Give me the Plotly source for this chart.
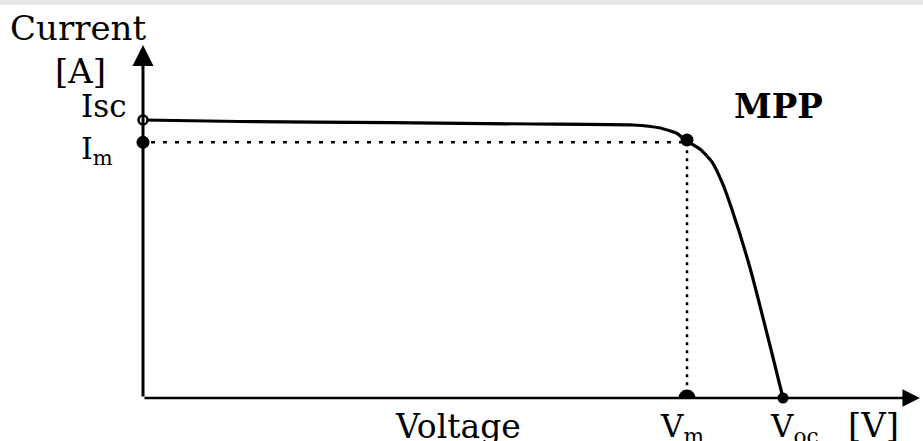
import plotly.graph_objects as go

# ---- data (schematic units) ----
voltage = [0.0, 3.03, 7.72, 12.19, 15.31, 16.16, 16.69, 17.0, 17.44, 17.78, 18.09,
           18.41, 18.97, 19.59, 20.0]
current = [5.00, 4.973, 4.951, 4.928, 4.910, 4.856, 4.757, 4.62, 4.460, 4.245, 3.885,
           3.381, 2.338, 0.953, 0.0]
Isc = 5.0
Im = 4.6
Vm = 17.0
Voc = 20.0
x_max = 24.375
y_max = 7.158
x_arrow = 24.28
y_arrow = 6.35

W, H = 923, 441
ML, MB = 143, 43
PW, PH = W - ML, H - MB

def px(x):
    return (x - ML) / PW

def py(y):
    return (PH - y) / PH

fig = go.Figure()

# dotted guide lines
fig.add_trace(go.Scatter(x=[0.25, Vm], y=[Im, Im], mode="lines",
                         line=dict(color="black", width=2.5, dash="4px,8px"),
                         hoverinfo="skip", showlegend=False))
fig.add_trace(go.Scatter(x=[Vm, Vm], y=[Im, 0], mode="lines",
                         line=dict(color="black", width=2.5, dash="3px,5px"),
                         hoverinfo="skip", showlegend=False))
# I-V curve
fig.add_trace(go.Scatter(x=voltage, y=current, mode="lines",
                         line=dict(color="black", width=3.2, shape="spline", smoothing=0.5),
                         cliponaxis=False, hoverinfo="skip", showlegend=False))
# points
fig.add_trace(go.Scatter(x=[0], y=[Isc], mode="markers",
                         marker=dict(size=9, color="white", line=dict(color="black", width=2.5)),
                         cliponaxis=False, showlegend=False))
fig.add_trace(go.Scatter(x=[0, Vm], y=[Im, 4.64], mode="markers",
                         marker=dict(size=13, color="black"),
                         cliponaxis=False, showlegend=False))
fig.add_trace(go.Scatter(x=[Vm], y=[0], mode="markers",
                         marker=dict(size=17, color="black"),
                         cliponaxis=True, showlegend=False))
fig.add_trace(go.Scatter(x=[Voc], y=[0], mode="markers",
                         marker=dict(size=11, color="black"),
                         cliponaxis=False, showlegend=False))

# axes as arrows
ann = [
    dict(x=x_arrow, y=0, ax=0, ay=0, xref="x", yref="y", axref="x", ayref="y",
         text="", showarrow=True, arrowhead=2, arrowsize=1.4, arrowwidth=2.5,
         arrowcolor="black", standoff=0, startstandoff=0),
    dict(x=0, y=y_arrow, ax=0, ay=0, xref="x", yref="y", axref="x", ayref="y",
         text="", showarrow=True, arrowhead=2, arrowsize=1.4, arrowwidth=3,
         arrowcolor="black", standoff=0, startstandoff=0),
]

def f(size, bold=False):
    d = dict(family="DejaVu Serif", size=size, color="black")
    if bold:
        d["weight"] = "bold"
    return d

def label(text, x, y, xa, fnt):
    return dict(text=text, x=px(x), y=py(y), xref="paper", yref="paper",
                xanchor=xa, yanchor="middle", showarrow=False, font=fnt)

ann += [
    label("Current", 8, 28, "left", f(34)),
    label("[A]", 80, 71, "center", f(34)),
    label("Isc", 129, 106, "right", f(31)),
    label("I<sub>m</sub>", 115, 150, "right", f(30)),
    label("MPP", 778, 106, "center", f(34, True)),
    label("Voltage", 458, 426, "center", f(33)),
    label("V<sub>m</sub>", 658, 428, "left", f(31)),
    label("V<sub>oc</sub>", 768, 428, "left", f(31)),
    label("[V]", 846, 425, "left", f(34)),
]

fig.update_layout(
    width=W, height=H,
    margin=dict(l=ML, r=0, t=0, b=MB),
    paper_bgcolor="white", plot_bgcolor="white",
    xaxis=dict(range=[0, x_max], visible=False, fixedrange=True),
    yaxis=dict(range=[0, y_max], visible=False, fixedrange=True),
    annotations=ann,
    shapes=[dict(type="rect", xref="paper", yref="paper", x0=px(0), x1=px(W),
                 y0=py(5), y1=py(0), fillcolor="#e6e6e6", line=dict(width=0), layer="below")],
    showlegend=False,
)

fig.write_html("out.html", config={"displayModeBar": False},
               post_script="document.body.style.margin='0';document.body.style.overflow='hidden';")
